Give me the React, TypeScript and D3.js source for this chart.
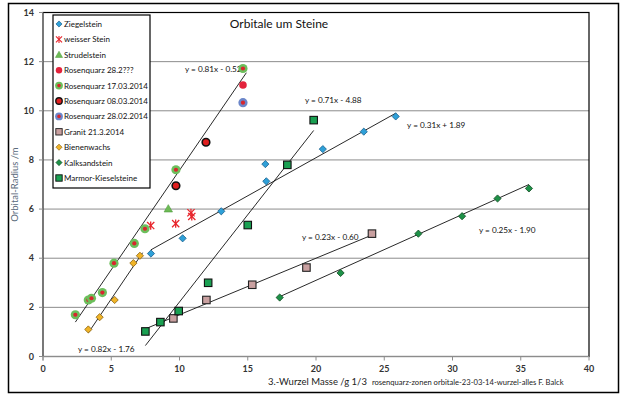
import React from 'react'
import * as d3 from 'd3'

// values: [cube root of mass, orbit radius]
const ziegelstein = [[7.91, 4.19], [10.23, 4.81], [13.06, 5.91], [16.36, 7.13], [16.29, 7.83], [20.5, 8.44], [23.5, 9.15], [25.84, 9.77]]
const weisserStein = [[7.89, 5.33], [9.72, 5.41], [10.84, 5.85], [10.9, 5.7]]
const strudelstein = [[9.18, 6.01]]
const rosen282 = [[14.65, 11.05]]
const rosen1703 = [[2.37, 1.7], [3.32, 2.3], [3.55, 2.37], [4.35, 2.6], [5.2, 3.8], [6.69, 4.6], [7.47, 5.2], [9.74, 7.6], [14.65, 11.72]]
const rosen0803 = [[9.74, 6.95], [11.94, 8.72]]
const rosen2802 = [[14.65, 10.33]]
const granit = [[9.55, 1.55], [11.97, 2.3], [15.33, 2.92], [19.3, 3.62], [24.1, 5.0]]
const bienenwachs = [[3.32, 1.1], [4.15, 1.6], [5.25, 2.3], [6.62, 3.8], [7.1, 4.1]]
const kalksandstein = [[17.34, 2.4], [21.8, 3.4], [27.5, 5.0], [30.7, 5.71], [33.3, 6.43], [35.6, 6.84]]
const marmor = [[7.5, 1.02], [8.6, 1.4], [9.94, 1.85], [12.1, 3.0], [15.0, 5.35], [17.9, 7.8], [19.83, 9.62]]

const seriesNames = ['Ziegelstein', 'weisser Stein', 'Strudelstein', 'Rosenquarz 28.2???', 'Rosenquarz 17.03.2014',
  'Rosenquarz 08.03.2014', 'Rosenquarz 28.02.2014', 'Granit 21.3.2014', 'Bienenwachs', 'Kalksandstein', 'Marmor-Kieselsteine']
const seriesData = [ziegelstein, weisserStein, strudelstein, rosen282, rosen1703, rosen0803, rosen2802, granit, bienenwachs, kalksandstein, marmor]
const seriesMarker = ['diamond', 'star', 'triangle', 'dot', 'ringGreen', 'dotBlack', 'ringBlue', 'square', 'diamond', 'diamond', 'square']
const seriesFill = ['#2ea0d8', '#e8242b', '#6dbb55', '#e3233c', '#6cbf5c', '#e01e1e', '#6b86c9', '#c9a0a0', '#f0b428', '#1e9148', '#1aa052']
const seriesStroke = ['#1c5f8c', '#e8242b', '#4e9a3c', '#e3233c', '#6cbf5c', '#111', '#6b86c9', '#222', '#8a6210', '#0e4a20', '#111']

// trend lines as printed in the chart: slope, intercept, x range, label spot
const trendSlope = [0.81, 0.71, 0.31, 0.23, 0.25, 0.82]
const trendIntercept = [-0.52, -4.88, 1.89, -0.60, -1.90, -1.76]
const trendFrom = [2.37, 7.5, 7.91, 7.55, 17.34, 3.32]
const trendTo = [14.9, 19.83, 25.84, 24.1, 35.6, 7.3]
const trendLabel = ['y = 0.81x - 0.52', 'y = 0.71x - 4.88', 'y = 0.31x + 1.89', 'y = 0.23x - 0.60', 'y = 0.25x - 1.90', 'y = 0.82x - 1.76']
const labelAt = [[10.4, 11.58], [19.19, 10.32], [26.67, 9.3], [18.97, 4.74], [31.94, 5.03], [2.56, 0.18]]

const xTicks = [0, 5, 10, 15, 20, 25, 30, 35, 40]
const yTicks = [0, 2, 4, 6, 8, 10, 12, 14]

const font = 'Lato, "Open Sans", sans-serif'

function Marker({ kind, cx, cy, fill, stroke }) {
  if (kind === 'diamond') {
    const r = 3.6
    return <path d={`M${cx},${cy - r}L${cx + r},${cy}L${cx},${cy + r}L${cx - r},${cy}Z`} fill={fill} stroke={stroke} strokeWidth={0.8} />
  }
  if (kind === 'square') {
    const s = 7.5
    return <rect x={cx - s / 2} y={cy - s / 2} width={s} height={s} fill={fill} stroke={stroke} strokeWidth={1.1} />
  }
  if (kind === 'triangle') {
    const r = 4.2
    return <path d={`M${cx},${cy - r}L${cx + r},${cy + r * 0.75}L${cx - r},${cy + r * 0.75}Z`} fill={fill} stroke={stroke} strokeWidth={0.6} />
  }
  if (kind === 'star') {
    const r = 3.6
    return (
      <g stroke={fill} strokeWidth={1.3}>
        <line x1={cx - r} y1={cy - r} x2={cx + r} y2={cy + r} />
        <line x1={cx - r} y1={cy + r} x2={cx + r} y2={cy - r} />
        <line x1={cx} y1={cy - r - 0.5} x2={cx} y2={cy + r + 0.5} />
      </g>
    )
  }
  if (kind === 'dot') return <circle cx={cx} cy={cy} r={3.8} fill={fill} />
  if (kind === 'dotBlack') return <circle cx={cx} cy={cy} r={3.8} fill={fill} stroke={stroke} strokeWidth={1.6} />
  // ringed circles: coloured halo with a red core
  return (
    <g>
      <circle cx={cx} cy={cy} r={4.6} fill={fill} />
      <circle cx={cx} cy={cy} r={2.1} fill="#d8262e" />
    </g>
  )
}

export default function App() {
  const width = 625
  const height = 399
  const x = d3.scaleLinear().domain([0, 40]).range([43, 589])
  const y = d3.scaleLinear().domain([0, 14]).range([356.5, 12.5])
  const line = d3.line<number[]>().x(d => x(d[0])).y(d => y(d[1]))

  const legendX = 53
  const legendY = 15

  return (
    <div style={{ position: 'absolute', left: 0, top: 0 }}>
      <svg width={width} height={height} style={{ display: 'block', background: '#fff' }} fontFamily={font}>
        <rect x={8.5} y={3.5} width={610} height={389} fill="#fff" stroke="#000" strokeWidth={1.5} />

        {/* grid */}
        {yTicks.filter(t => t > 0 && t < 14).map(t => (
          <line key={'g' + t} x1={x(0)} x2={x(40)} y1={y(t)} y2={y(t)} stroke="#8c8c8c" strokeWidth={1} />
        ))}
        <rect x={x(0)} y={y(14)} width={x(40) - x(0)} height={y(0) - y(14)} fill="none" stroke="#000" strokeWidth={1.2} />

        {/* axes */}
        <line x1={x(0)} x2={x(0)} y1={y(0) + 4} y2={y(14)} stroke="#8c8c8c" />
        <line x1={x(0)} x2={x(40)} y1={y(0)} y2={y(0)} stroke="#8c8c8c" />
        {yTicks.map(t => (
          <g key={'y' + t}>
            <line x1={x(0) - 4} x2={x(0)} y1={y(t)} y2={y(t)} stroke="#8c8c8c" />
            <text x={x(0) - 9} y={y(t) + 3} textAnchor="end" fontSize={9} fontWeight="bold" fill="#333">{t}</text>
          </g>
        ))}
        {xTicks.map(t => (
          <g key={'x' + t}>
            <line x1={x(t)} x2={x(t)} y1={y(0)} y2={y(0) + 4} stroke="#8c8c8c" />
            <text x={x(t)} y={372} textAnchor="middle" fontSize={9} fontWeight="bold" fill="#333">{t}</text>
          </g>
        ))}

        <text x={279} y={28} textAnchor="middle" fontSize={12} fill="#111">Orbitale um Steine</text>
        <text transform={`translate(18,${(y(0) + y(14)) / 2}) rotate(-90)`} textAnchor="middle" fontSize={9.5} fill="#5b6b7c">Orbital-Radius /m</text>
        <text x={268} y={385} fontSize={9.5} fill="#222">3.-Wurzel Masse /g 1/3
          <tspan fontSize={7.6} dx={5}>rosenquarz-zonen  orbitale-23-03-14-wurzel-alles  F. Balck</tspan>
        </text>

        {/* trend lines */}
        {trendSlope.map((m, i) => (
          <path key={'t' + i}
            d={line([[trendFrom[i], m * trendFrom[i] + trendIntercept[i]], [trendTo[i], m * trendTo[i] + trendIntercept[i]]])}
            stroke="#111" strokeWidth={0.9} fill="none" />
        ))}
        {trendLabel.map((s, i) => (
          <text key={'l' + i} x={x(labelAt[i][0])} y={y(labelAt[i][1])} fontSize={8.2} fill="#111">{s}</text>
        ))}

        {/* points */}
        {seriesData.map((pts, i) => (
          <g key={'s' + i}>
            {pts.map((p, j) => (
              <Marker key={j} kind={seriesMarker[i]} cx={x(p[0])} cy={y(p[1])} fill={seriesFill[i]} stroke={seriesStroke[i]} />
            ))}
          </g>
        ))}

        {/* legend */}
        <rect x={legendX} y={legendY} width={97} height={173} fill="#fff" stroke="#000" strokeWidth={1.2} />
        {seriesNames.map((n, i) => {
          const cy = legendY + 9 + i * 15.4
          return (
            <g key={'lg' + i}>
              <g transform={`translate(${legendX + 6},${cy}) scale(0.85) translate(${-(legendX + 6)},${-cy})`}>
                <Marker kind={seriesMarker[i]} cx={legendX + 6} cy={cy} fill={seriesFill[i]} stroke={seriesStroke[i]} />
              </g>
              <text x={legendX + 11} y={cy + 3} fontSize={8} fill="#111">{n}</text>
            </g>
          )
        })}
      </svg>
    </div>
  )
}
